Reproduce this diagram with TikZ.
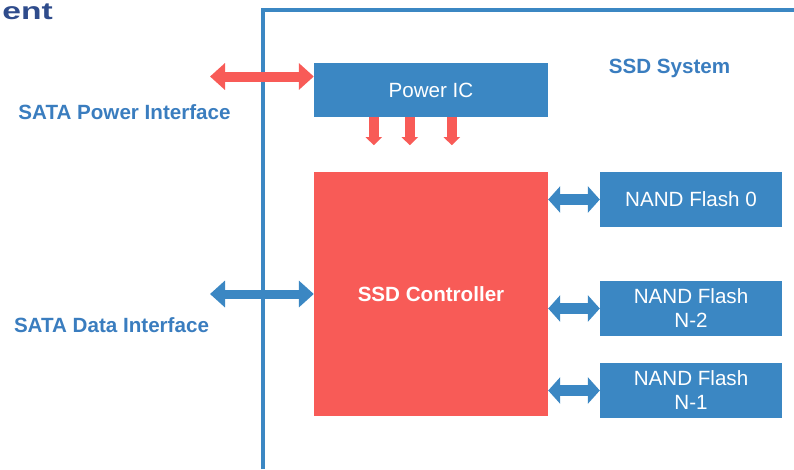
\documentclass[tikz,border=0pt]{standalone}
\usepackage{fontspec}
\setmainfont{Liberation Sans}
\usetikzlibrary{arrows.meta,calc}

\definecolor{ssdblue}{HTML}{3B87C3}
\definecolor{ssdred}{HTML}{F85B57}
\definecolor{lblblue}{HTML}{3A7DBF}
\definecolor{titleblue}{HTML}{2F4C8C}

\tikzset{
  blk/.style={draw=none,inner sep=0pt,text=white,font=\fontsize{20.6}{24}\selectfont,align=center},
  lbl/.style={inner sep=0pt,text=lblblue,font=\fontsize{20.6}{24}\selectfont\bfseries},
  bigarr/.style={line width=10pt,{Triangle[width=26pt,length=15pt]}-{Triangle[width=26pt,length=15pt]}},
  smallarr/.style={line width=11pt,{Triangle[width=26pt,length=12pt]}-{Triangle[width=26pt,length=12pt]}},
  downarr/.style={ssdred,line width=10pt,-{Triangle[width=16pt,length=8pt]}}
}

\begin{document}
\begin{tikzpicture}[x=1pt,y=-1pt]
\useasboundingbox (0,0) rectangle (794,469);
% frame of the ssd
\draw[ssdblue,line width=4pt] (262.5,469) -- (262.5,9.5) -- (794,9.5);
\node[anchor=base east,inner sep=0pt,text=titleblue,xscale=1.4,font=\fontsize{24}{26}\selectfont\bfseries] (title) at (53,19) {ent};
\node[lbl] (sysl) at (669.5,68) {SSD System};
\node[lbl] (pwrl) at (124.5,112) {SATA Power Interface};
\node[lbl] (datl) at (111.5,325) {SATA Data Interface};
% blocks
\node[blk,fill=ssdblue,minimum width=234pt,minimum height=54pt] (power) at (431,90) {Power IC};
\node[blk,fill=ssdred,minimum width=234pt,minimum height=244pt,font=\fontsize{20.6}{24}\selectfont\bfseries] (ctrl) at (431,294) {SSD Controller};
\node[blk,fill=ssdblue,minimum width=182pt,minimum height=55pt] (nand0) at (691,199.5) {NAND Flash 0};
\node[blk,fill=ssdblue,minimum width=182pt,minimum height=55pt] (nand2) at (691,308.5) {NAND Flash\\N-2};
\node[blk,fill=ssdblue,minimum width=182pt,minimum height=55pt] (nand1) at (691,390.5) {NAND Flash\\N-1};
% interfaces
\coordinate (pwrend) at (210,76.5);
\coordinate (datend) at (210,294);
\draw[bigarr,ssdred] (pwrend) -- (pwrend -| power.west);
\draw[bigarr,ssdblue,line width=9pt] (datend) -- (ctrl.west);
\foreach \d in {60,96,138}
  \draw[downarr] ($(power.south west)+(\d,0)$) -- ++(0,28);
\foreach \n in {nand0,nand2,nand1}
  \draw[smallarr,ssdblue] (ctrl.east |- \n.west) -- (\n.west);
\end{tikzpicture}
\end{document}
